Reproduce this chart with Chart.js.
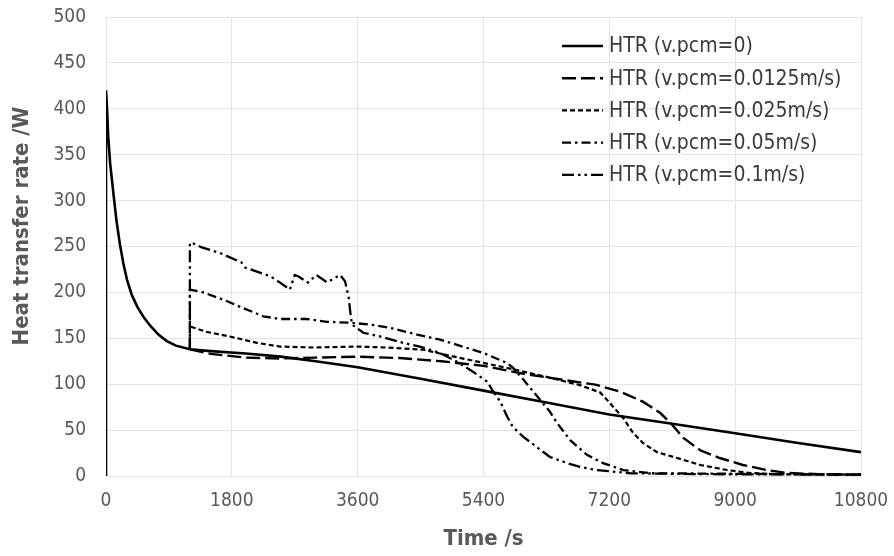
<!DOCTYPE html>
<html>
<head>
<meta charset="utf-8">
<script src="https://cdn.jsdelivr.net/npm/chart.js@4.4.1/dist/chart.umd.min.js"></script>
<style>
  html, body { margin: 0; padding: 0; background: #ffffff; }
  #wrap { width: 894px; height: 556px; }
</style>
</head>
<body>
<div id="wrap"><canvas id="htr" width="894" height="556"></canvas></div>
<script>
// Heat transfer rate of the PCM unit over time for several PCM flow velocities
const FONT = "'DejaVu Sans Condensed', 'Liberation Sans', sans-serif";

const xTickStep = 1800;   // s
const xMax = 10800;       // s
const yTickStep = 50;     // W
const yMax = 500;         // W

const seriesLabels = [
  'HTR (v.pcm=0)',
  'HTR (v.pcm=0.0125m/s)',
  'HTR (v.pcm=0.025m/s)',
  'HTR (v.pcm=0.05m/s)',
  'HTR (v.pcm=0.1m/s)'
];

// v.pcm = 0
const time0 = [0, 0, 15, 30, 60, 100, 150, 200, 250, 300, 370, 450, 540, 630, 750, 870, 1000, 1200, 1500, 2000,
               2500, 3000, 3600, 4500, 5400, 6300, 7200, 8100, 9000, 9900, 10800];
const htr0  = [0, 420, 400, 372, 340, 312, 278, 252, 231, 214, 197, 184, 173, 164, 154, 147, 142, 138, 136, 133.5,
               130, 125, 118.5, 106, 93, 80, 67, 57, 46.5, 36, 26];

// v.pcm = 0.0125 m/s
const time1 = [1200, 1500, 2000, 2500, 3000, 3600, 4200, 4800, 5400, 6000, 6600, 7000, 7350, 7680, 7930, 8100,
               8260, 8500, 8780, 9110, 9450, 9740, 10200, 10800];
const htr1  = [138, 133, 129, 128, 129, 130, 128.5, 125, 120, 111, 104, 99.5, 92, 81, 68.6, 55.7,
               41.5, 28, 19.6, 12, 6.5, 3.3, 2, 1.5];

// v.pcm = 0.025 m/s
const time2 = [1200, 1200, 1440, 1770, 2160, 2490, 2970, 3600, 4000, 4540, 4920, 5350, 5780, 6300, 6780, 7070,
               7260, 7400, 7540, 7680, 7880, 8170, 8500, 8880, 9210, 9600, 10800];
const htr2  = [138, 163, 157, 152, 145, 141, 140, 141, 140, 137.5, 131, 124, 117, 108, 99, 91,
               75, 63, 47, 36, 26, 19.6, 12, 6.5, 3.3, 2, 1.5];

// v.pcm = 0.05 m/s
const time3 = [1200, 1200, 1390, 1680, 1960, 2250, 2490, 2870, 3160, 3490, 3780, 4060, 4450, 4780, 5100, 5400,
               5740, 5820, 5970, 6210, 6350, 6450, 6640, 6880, 7110, 7400, 7800, 10800];
const htr3  = [138, 203, 200, 192, 183, 174, 171, 171, 168, 167, 165, 161.5, 154, 148.5, 141, 134,
               123, 118, 105, 83, 70, 58, 39, 23, 14, 6.5, 3, 1.5];

// v.pcm = 0.1 m/s
const time4 = [1200, 1200, 1230, 1370, 1630, 1940, 1990, 2200, 2350, 2490, 2630, 2700, 2760, 2890, 3010, 3160,
               3350, 3420, 3470, 3500, 3520, 3680, 3920, 4250, 4490, 4780, 5020, 5250, 5450, 5540, 5640, 5740,
               5820, 5970, 6160, 6350, 6600, 6780, 7020, 7500, 8500, 10800];
const htr4  = [138, 254, 254, 249, 243, 232.5, 227, 221.6, 217.6, 210.7, 203, 219, 217, 210.7, 219, 211,
               219, 212, 195, 175, 165, 156, 152, 145, 141, 134, 124.5, 113.5, 103, 92, 81, 64.5,
               53.5, 42.6, 31.7, 20.7, 14, 10, 6.5, 3, 2, 1.5];

const times = [time0, time1, time2, time3, time4];
const values = [htr0, htr1, htr2, htr3, htr4];

const lineStyles = [
  { dash: [],                       width: 2.6 },
  { dash: [14, 5],                  width: 2.4 },
  { dash: [5, 3],                   width: 2.2 },
  { dash: [9, 4, 2.5, 4],           width: 2.3 },
  { dash: [12, 4, 2.5, 4, 2.5, 4],  width: 2.3 }
];

const toPoints = (ts, vs) => ts.map((t, i) => ({ x: t, y: vs[i] }));

const datasets = seriesLabels.map((label, i) => ({
  label,
  data: toPoints(times[i], values[i]),
  borderColor: '#000000',
  backgroundColor: '#000000',
  borderWidth: lineStyles[i].width,
  borderDash: lineStyles[i].dash,
  pointRadius: 0,
  pointHoverRadius: 0,
  tension: 0,
  fill: false
}));

// Legend drawn in the upper right of the plot, each entry with its line sample
const legendInPlot = {
  id: 'legendInPlot',
  afterDraw(chart) {
    const ctx = chart.ctx;
    const x0 = 562, y0 = 46, lineLen = 41, gap = 6, rowH = 32.2;
    ctx.save();
    ctx.font = '21px ' + FONT;
    ctx.textBaseline = 'middle';
    ctx.textAlign = 'left';
    chart.data.datasets.forEach((ds, i) => {
      const y = y0 + i * rowH;
      ctx.save();
      ctx.strokeStyle = ds.borderColor;
      ctx.lineWidth = ds.borderWidth;
      ctx.setLineDash(ds.borderDash);
      ctx.beginPath();
      ctx.moveTo(x0, y);
      ctx.lineTo(x0 + lineLen, y);
      ctx.stroke();
      ctx.restore();
      ctx.fillStyle = '#3a3a3a';
      ctx.fillText(ds.label, x0 + lineLen + gap, y + 1);
    });
    ctx.restore();
  }
};

// Vertical axis title
const yAxisTitle = {
  id: 'yAxisTitle',
  afterDraw(chart) {
    const ctx = chart.ctx;
    ctx.save();
    ctx.translate(22, 226);
    ctx.rotate(-Math.PI / 2);
    ctx.font = 'bold 22px ' + FONT;
    ctx.fillStyle = '#595959';
    ctx.textAlign = 'center';
    ctx.textBaseline = 'middle';
    ctx.fillText('Heat transfer rate /W', 0, 0);
    ctx.restore();
  }
};

const plainNumber = (v) => String(v);

new Chart(document.getElementById('htr'), {
  type: 'line',
  data: { datasets },
  options: {
    responsive: false,
    animation: false,
    events: [],
    layout: { padding: { left: 0, right: 33, top: 17, bottom: 0 } },
    plugins: {
      legend: { display: false },
      tooltip: { enabled: false }
    },
    scales: {
      x: {
        type: 'linear',
        min: 0,
        max: xMax,
        afterFit(scale) {
          scale.height = 80;
          scale.paddingLeft = 0;
          scale.paddingRight = 0;
        },
        ticks: {
          stepSize: xTickStep,
          padding: 14,
          color: '#595959',
          font: { family: FONT, size: 19 },
          maxRotation: 0,
          callback: plainNumber
        },
        grid: { color: '#e4e4e4', lineWidth: 1, drawTicks: false },
        border: { display: false },
        title: {
          display: true,
          text: 'Time /s',
          color: '#595959',
          font: { family: FONT, size: 22, weight: 'bold' },
          padding: { top: 0, bottom: 4 }
        }
      },
      y: {
        min: 0,
        max: yMax,
        afterFit(scale) {
          scale.width = 106;
          scale.paddingTop = 0;
          scale.paddingBottom = 0;
        },
        ticks: {
          stepSize: yTickStep,
          padding: 20,
          color: '#595959',
          font: { family: FONT, size: 19 },
          callback: plainNumber
        },
        grid: { color: '#e4e4e4', lineWidth: 1, drawTicks: false },
        border: { display: false }
      }
    }
  },
  plugins: [legendInPlot, yAxisTitle]
});
</script>
</body>
</html>
